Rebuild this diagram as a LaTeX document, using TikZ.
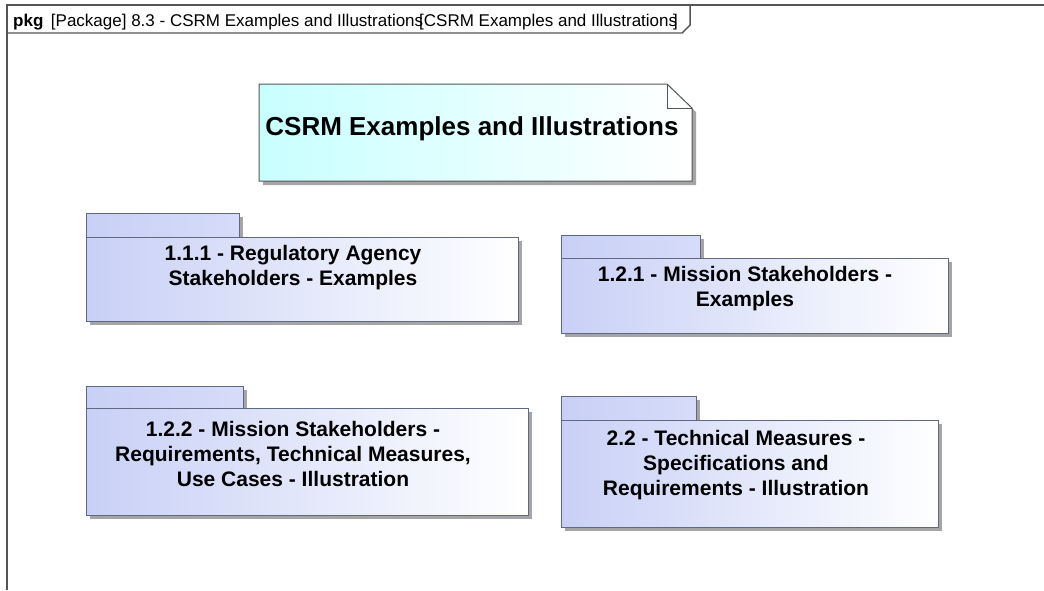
\documentclass[tikz,border=0pt]{standalone}
\usepackage{fontspec}
\setmainfont{Liberation Sans}
\usetikzlibrary{shadows,calc}
\definecolor{pkgL}{RGB}{200,208,246}
\definecolor{pkgB}{RGB}{95,105,130}
\definecolor{noteL}{RGB}{200,255,255}
\definecolor{frameC}{RGB}{85,85,85}
\definecolor{shadowC}{RGB}{165,165,165}
\tikzset{
  pshadow/.style={general shadow={fill=shadowC, shadow xshift=3pt, shadow yshift=-3pt}},
  pkgtab/.style={draw=pkgB, line width=1pt, left color=pkgL, right color=pkgL!75!white, pshadow, anchor=north west, inner sep=0pt},
  pkgbody/.style={draw=pkgB, line width=1pt, left color=pkgL, right color=white, pshadow, anchor=north west, inner sep=0pt},
  pkgtext/.style={align=center, inner sep=0pt, font=\bfseries\fontsize{21}{25}\selectfont},
  framestroke/.style={draw=frameC, line width=1.4pt}
}
\begin{document}
\begin{tikzpicture}[x=1pt,y=-1pt]
\useasboundingbox (0,0) rectangle (1044,590);
\fill[white] (0,0) rectangle (1044,590);

% frame
\draw[framestroke] (7,590) -- (7,5) -- (1044,5);
\node[anchor=base west, inner sep=0pt, font=\fontsize{17}{20}\selectfont] (hdr) at (13,26.5)
  {\textbf{pkg}\, [Package] 8.3 - CSRM Examples and Illustrations\kern-4pt[CSRM Examples and Illustrations\kern-4pt]};
\draw[framestroke] let \p1=(hdr.east) in (7pt,-33pt) -- (\x1+4pt,-33pt) -- (\x1+12pt,-25pt) -- (\x1+12pt,-5pt);

% note
\fill[shadowC] (263,88) -- (671,88) -- (696,112) -- (696,185) -- (263,185) -- cycle;
\shade[left color=noteL, right color=white, draw=frameC, line width=1pt] (259,84) -- (667,84) -- (692,108) -- (692,181) -- (259,181) -- cycle;
\draw[frameC, line width=1pt] (667,84) -- (667,108) -- (692,108);
\node[font=\bfseries\fontsize{26}{30}\selectfont, inner sep=0pt] (title) at (472,129) {CSRM Examples and Illustrations};

% package 1
\node[pkgtab, minimum width=153pt, minimum height=24pt] (p1tab) at (86,213) {};
\node[pkgbody, minimum width=432pt, minimum height=84pt] (p1) at (86,237) {};
\node[pkgtext] (p1t) at (293,267.5) {1.1.1 - Regulatory Agency\\Stakeholders - Examples};

% package 2
\node[pkgtab, minimum width=139pt, minimum height=23pt] (p2tab) at (561,235) {};
\node[pkgbody, minimum width=387pt, minimum height=75pt] (p2) at (561,258) {};
\node[pkgtext] (p2t) at (745,288.5) {1.2.1 - Mission Stakeholders -\\Examples};

% package 3
\node[pkgtab, minimum width=157pt, minimum height=22pt] (p3tab) at (86,386) {};
\node[pkgbody, minimum width=442pt, minimum height=107pt] (p3) at (86,408) {};
\node[pkgtext] (p3t) at (293,454) {1.2.2 - Mission Stakeholders -\\Requirements, Technical Measures,\\Use Cases - Illustration};

% package 4
\node[pkgtab, minimum width=135pt, minimum height=24pt] (p4tab) at (561,396) {};
\node[pkgbody, minimum width=377pt, minimum height=107pt] (p4) at (561,420) {};
\node[pkgtext] (p4t) at (736,465) {2.2 - Technical Measures -\\Specifications and\\Requirements - Illustration};
\end{tikzpicture}
\end{document}
